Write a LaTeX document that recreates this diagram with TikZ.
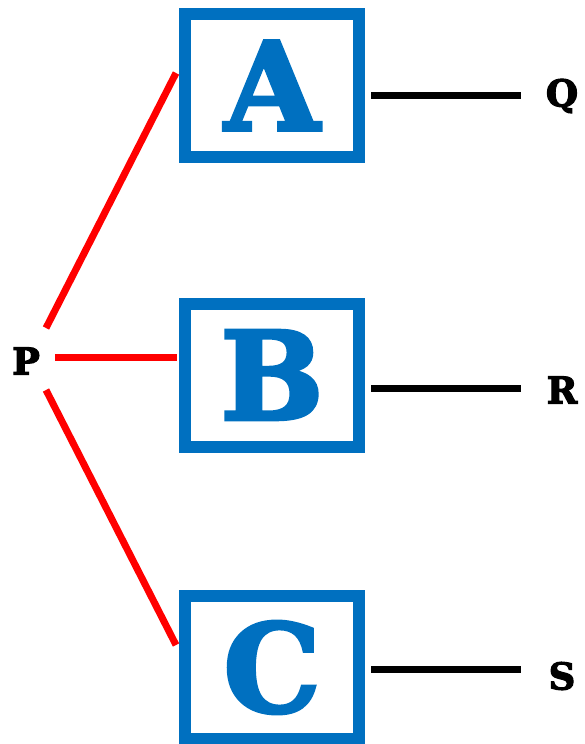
\documentclass[tikz,border=0pt]{standalone}
\usepackage{fontspec}
\setmainfont{DejaVu Serif}
\newfontfamily\heavy{DejaVu Serif}[BoldFeatures={FakeBold=3}]
\definecolor{boxblue}{HTML}{0070C0}
\definecolor{linered}{HTML}{FF0000}
\begin{document}
\begin{tikzpicture}[x=1pt,y=-1pt,
  letterbox/.style={draw=boxblue,line width=12pt,minimum width=174pt,minimum height=143pt,inner sep=0pt,
    text=boxblue,font=\fontsize{122}{122}\heavy\bfseries},
  side/.style={font=\fontsize{37}{37}\heavy\bfseries,inner sep=0pt},
  redline/.style={draw=linered,line width=7pt},
  blackline/.style={draw=black,line width=7pt}]
\useasboundingbox (0,0) rectangle (585,744);
\node[letterbox] (A) at (272,85.5) {A};
\node[letterbox] (B) at (272,375) {B};
\node[letterbox] (C) at (272,667.5) {C};
\node[side] (P) at (26,361) {P};
\node[side] (Q) at (562,96) {Q};
\node[side] (R) at (562,390) {R};
\node[side] (S) at (562,676) {S};
\coordinate (p1) at (46,328);
\coordinate (p2) at (55,357);
\coordinate (p3) at (46,390);
\coordinate (a1) at (176,73);
\coordinate (b1) at (177,357);
\coordinate (c1) at (176,645);
\draw[redline] (p1) -- (a1);
\draw[redline] (p2) -- (b1);
\draw[redline] (p3) -- (c1);
\coordinate (qa) at (371,95);
\coordinate (qb) at (521,95);
\coordinate (ra) at (371,388);
\coordinate (rb) at (521,388);
\coordinate (sa) at (371,669);
\coordinate (sb) at (521,669);
\draw[blackline] (qa) -- (qb);
\draw[blackline] (ra) -- (rb);
\draw[blackline] (sa) -- (sb);
\end{tikzpicture}
\end{document}
